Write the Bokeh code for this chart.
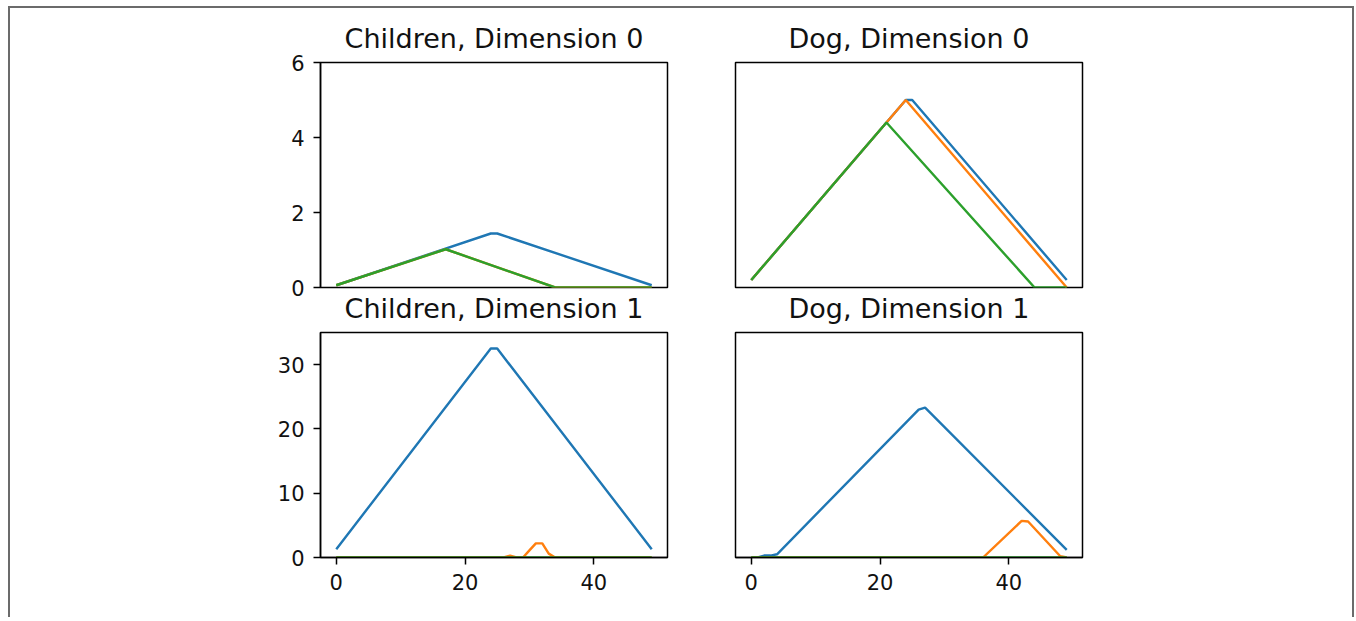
from bokeh.plotting import figure
from bokeh.layouts import column, row
from bokeh.models import Range1d, FixedTicker, Title
from bokeh.embed import file_html
from bokeh.resources import INLINE

# ---------------- data ----------------
colors = ["#1f77b4", "#ff7f0e", "#2ca02c"]
x_ticks = [0, 20, 40]
y_ticks_dim0 = [0, 2, 4, 6]
y_ticks_dim1 = [0, 10, 20, 30]
titles = ["Children, Dimension 0", "Dog, Dimension 0",
          "Children, Dimension 1", "Dog, Dimension 1"]

# Children, Dimension 0
ch0_blue_x = [0, 24, 25, 49]
ch0_blue_y = [0.06, 1.44, 1.44, 0.06]
ch0_orange_x = [0, 17, 34, 49]
ch0_orange_y = [0.06, 1.02, 0.0, 0.0]
ch0_green_x = [0, 17, 34, 49]
ch0_green_y = [0.06, 1.02, 0.0, 0.0]

# Dog, Dimension 0
dog0_blue_x = [0, 24, 25, 49]
dog0_blue_y = [0.2, 5.0, 5.0, 0.2]
dog0_orange_x = [0, 24, 48, 49]
dog0_orange_y = [0.2, 5.0, 0.2, 0.0]
dog0_green_x = [0, 21, 44, 49]
dog0_green_y = [0.2, 4.4, 0.0, 0.0]

# Children, Dimension 1
ch1_blue_x = [0, 24, 25, 49]
ch1_blue_y = [1.3, 32.5, 32.5, 1.3]
ch1_orange_x = [0, 26, 27, 28, 29, 30, 31, 32, 33, 34, 49]
ch1_orange_y = [0.0, 0.0, 0.3, 0.0, 0.0, 1.1, 2.2, 2.2, 0.6, 0.0, 0.0]
ch1_green_x = [0, 49]
ch1_green_y = [0.0, 0.0]

# Dog, Dimension 1
dog1_blue_x = [0, 1, 2, 3, 4, 26, 27, 49]
dog1_blue_y = [0.0, 0.0, 0.3, 0.3, 0.5, 23.0, 23.3, 1.2]
dog1_orange_x = [0, 36, 42, 43, 48, 49]
dog1_orange_y = [0.0, 0.0, 5.7, 5.6, 0.2, 0.0]
dog1_green_x = [0, 49]
dog1_green_y = [0.0, 0.0]

FONT = "DejaVu Sans"
TITLE_SIZE = "27px"
TICK_SIZE = "21px"
TEXT_COLOR = "#111111"


def style_title(t, standoff):
    t.text_font = FONT
    t.text_font_size = TITLE_SIZE
    t.text_font_style = "normal"
    t.text_color = TEXT_COLOR
    t.align = "center"
    t.standoff = standoff


def make_panel(series, y_max, y_ticks, show_x, show_y, borders, title=None):
    left, right, top, bottom = borders
    p = figure(frame_width=347, frame_height=225,
               x_range=Range1d(-2.45, 51.45), y_range=Range1d(0, y_max),
               x_axis_location="below" if show_x else None,
               y_axis_location="left" if show_y else None,
               title=title,
               output_backend="svg", toolbar_location=None,
               min_border_left=left, min_border_right=right,
               min_border_top=top, min_border_bottom=bottom,
               background_fill_color="white", border_fill_color="white")
    if title is not None:
        style_title(p.title, 18)
    p.outline_line_color = "black"
    p.outline_line_width = 1.5
    p.outline_line_alpha = 1.0
    p.xgrid.visible = False
    p.ygrid.visible = False

    for (xs, ys), c in zip(series, colors):
        p.line(xs, ys, line_color=c, line_width=2.4)

    axes = []
    if show_x:
        axes.append((p.xaxis, x_ticks))
    if show_y:
        axes.append((p.yaxis, y_ticks))
    for ax, ticks in axes:
        ax.ticker = FixedTicker(ticks=ticks)
        ax.major_tick_out = 7
        ax.major_tick_in = 0
        ax.minor_tick_out = 0
        ax.minor_tick_in = 0
        ax.major_tick_line_width = 1.5
        ax.major_tick_line_color = "black"
        ax.axis_line_color = "black"
        ax.axis_line_width = 1.5
        ax.major_label_text_font = FONT
        ax.major_label_text_font_size = TICK_SIZE
        ax.major_label_text_color = TEXT_COLOR
        ax.major_label_standoff = 9
    return p


p1 = make_panel([(ch0_blue_x, ch0_blue_y), (ch0_orange_x, ch0_orange_y), (ch0_green_x, ch0_green_y)],
                6, y_ticks_dim0, False, True, (310, 33, 54, 39), title=titles[0])
p2 = make_panel([(dog0_blue_x, dog0_blue_y), (dog0_orange_x, dog0_orange_y), (dog0_green_x, dog0_green_y)],
                6, y_ticks_dim0, False, False, (35, 270, 54, 39), title=titles[1])
p3 = make_panel([(ch1_blue_x, ch1_blue_y), (ch1_orange_x, ch1_orange_y), (ch1_green_x, ch1_green_y)],
                35, y_ticks_dim1, True, True, (310, 33, 6, 60))
p4 = make_panel([(dog1_blue_x, dog1_blue_y), (dog1_orange_x, dog1_orange_y), (dog1_green_x, dog1_green_y)],
                35, y_ticks_dim1, True, False, (35, 270, 6, 60))

# titles of the lower panels live in the gap below the upper panels
for upper, txt in ((p1, titles[2]), (p2, titles[3])):
    t = Title(text=txt)
    style_title(t, 6)
    upper.add_layout(t, "below")

layout = column(row(p1, p2, spacing=0), row(p3, p4, spacing=0), spacing=0,
                styles={"margin-left": "8px", "margin-top": "6px",
                        "border-left": "2px solid #6b6b6b",
                        "border-top": "2px solid #6b6b6b",
                        "border-right": "2px solid #6b6b6b"})

open("out.html", "w").write(file_html(layout, INLINE))
